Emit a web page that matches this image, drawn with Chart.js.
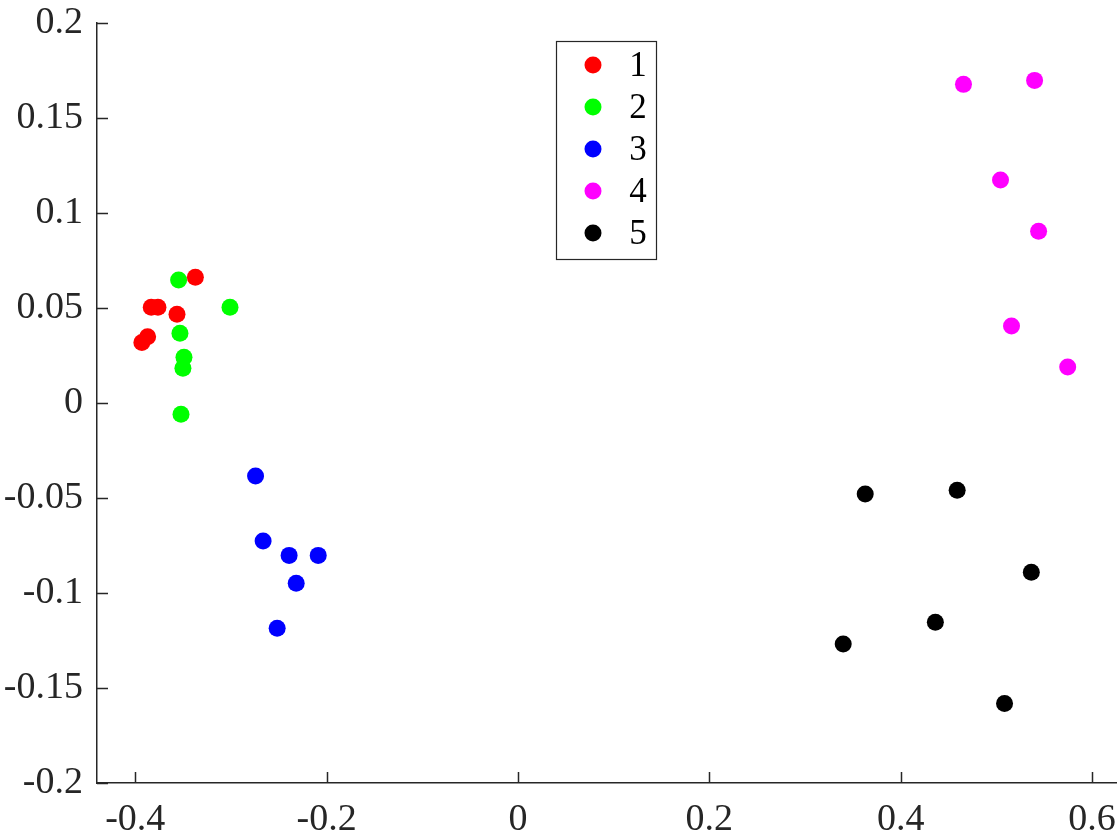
<!DOCTYPE html>
<html>
<head>
<meta charset="utf-8">
<script src="https://cdn.jsdelivr.net/npm/chart.js@4"></script>
<style>
  html, body { margin: 0; padding: 0; background: #fff; }
  #wrap { width: 1120px; height: 840px; }
</style>
</head>
<body>
<div id="wrap"><canvas id="myChart" width="1120" height="840"></canvas></div>
<script>
// cluster data
var groupNames = ["1", "2", "3", "4", "5"];
var groupColors = ["#ff0000", "#00ff00", "#0000ff", "#ff00ff", "#000000"];

var g1x = [-0.3372, -0.3833, -0.3763, -0.3564, -0.3931, -0.3871];
var g1y = [0.0662, 0.0504, 0.0504, 0.0467, 0.0319, 0.0349];
var g2x = [-0.3547, -0.3010, -0.3533, -0.3491, -0.3502, -0.3522];
var g2y = [0.0647, 0.0504, 0.0367, 0.0241, 0.0183, -0.0059];
var g3x = [-0.2743, -0.2664, -0.2392, -0.2088, -0.2318, -0.2517];
var g3y = [-0.0384, -0.0726, -0.0802, -0.0802, -0.0949, -0.1186];
var g4x = [0.4656, 0.5399, 0.5043, 0.5441, 0.5158, 0.5745];
var g4y = [0.1677, 0.1698, 0.1174, 0.0904, 0.0405, 0.0189];
var g5x = [0.3629, 0.4590, 0.5365, 0.4362, 0.3399, 0.5085];
var g5y = [-0.0479, -0.0459, -0.0891, -0.1154, -0.1268, -0.1581];

var xTicks = [-0.4, -0.2, 0, 0.2, 0.4, 0.6];
var yTicks = [-0.2, -0.15, -0.1, -0.05, 0, 0.05, 0.1, 0.15, 0.2];

var allX = [g1x, g2x, g3x, g4x, g5x];
var allY = [g1y, g2y, g3y, g4y, g5y];

var axisColor = "#262626";
var fontFamily = "'Liberation Serif', 'Times New Roman', serif";

function pts(xs, ys) {
  var out = [];
  for (var i = 0; i < xs.length; i++) out.push({ x: xs[i], y: ys[i] });
  return out;
}

var datasets = [];
for (var k = 0; k < groupNames.length; k++) {
  datasets.push({
    label: groupNames[k],
    data: pts(allX[k], allY[k]),
    backgroundColor: groupColors[k],
    borderWidth: 0,
    pointRadius: 8.5,
    pointHoverRadius: 8.5,
  });
}

// inward tick marks like matlab
var innerTicks = {
  id: "innerTicks",
  afterDraw: function(chart) {
    var ctx = chart.ctx;
    var a = chart.chartArea;
    var xs = chart.scales.x, ys = chart.scales.y;
    ctx.save();
    ctx.strokeStyle = axisColor;
    ctx.lineWidth = 1.5;
    ctx.beginPath();
    xTicks.forEach(function(v) {
      var px = Math.round(xs.getPixelForValue(v)) + 0.5;
      ctx.moveTo(px, a.bottom);
      ctx.lineTo(px, a.bottom - 11);
    });
    yTicks.forEach(function(v) {
      var py = Math.round(ys.getPixelForValue(v)) + 0.5;
      ctx.moveTo(a.left, py);
      ctx.lineTo(a.left + 11, py);
    });
    ctx.stroke();
    ctx.restore();
  }
};

// boxed legend in the middle top
var boxLegend = {
  id: "boxLegend",
  afterDraw: function(chart) {
    var ctx = chart.ctx;
    var bx = 556, by = 41, bw = 100, bh = 218;
    ctx.save();
    ctx.fillStyle = "#fff";
    ctx.fillRect(bx, by, bw, bh);
    ctx.strokeStyle = axisColor;
    ctx.lineWidth = 1.2;
    ctx.strokeRect(bx + 0.5, by + 0.5, bw, bh);
    ctx.font = "35px " + fontFamily;
    ctx.textAlign = "center";
    ctx.textBaseline = "middle";
    for (var i = 0; i < groupNames.length; i++) {
      var cy = by + 24 + i * 42;
      ctx.fillStyle = groupColors[i];
      ctx.beginPath();
      ctx.arc(593, cy, 8.5, 0, Math.PI * 2);
      ctx.fill();
      ctx.fillStyle = "#000";
      ctx.fillText(groupNames[i], 638, cy + 2);
    }
    ctx.restore();
  }
};

var ctx = document.getElementById("myChart").getContext("2d");
var myChart = new Chart(ctx, {
  type: "scatter",
  data: { datasets: datasets },
  options: {
    responsive: false,
    animation: false,
    layout: { autoPadding: false, padding: { top: 23, right: 4, left: 0, bottom: 0 } },
    plugins: {
      legend: { display: false },
      tooltip: { enabled: false },
    },
    scales: {
      x: {
        type: "linear",
        min: -0.44,
        max: 0.625,
        afterBuildTicks: function(scale) {
          scale.ticks = xTicks.map(function(v) { return { value: v }; });
        },
        afterFit: function(scale) {
          scale.height = 57;
          scale.paddingLeft = 0;
          scale.paddingRight = 0;
        },
        grid: { display: false, drawTicks: false },
        border: { display: true, color: axisColor, width: 1.5 },
        ticks: {
          color: axisColor,
          padding: 14,
          maxRotation: 0,
          autoSkip: false,
          font: { family: fontFamily, size: 38 },
          callback: function(v) { return String(v); },
        },
      },
      y: {
        type: "linear",
        min: -0.2,
        max: 0.2,
        afterBuildTicks: function(scale) {
          scale.ticks = yTicks.map(function(v) { return { value: v }; });
        },
        afterFit: function(scale) {
          scale.width = 97;
          scale.paddingTop = 0;
          scale.paddingBottom = 0;
        },
        grid: { display: false, drawTicks: false },
        border: { display: true, color: axisColor, width: 1.5 },
        ticks: {
          color: axisColor,
          padding: 14,
          autoSkip: false,
          font: { family: fontFamily, size: 38 },
          callback: function(v) { return String(v); },
        },
      },
    },
  },
  plugins: [innerTicks, boxLegend],
});
</script>
</body>
</html>
